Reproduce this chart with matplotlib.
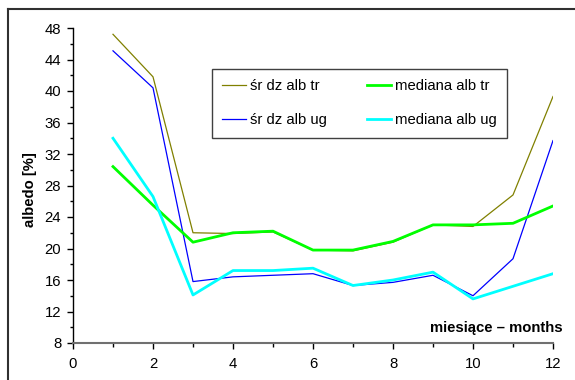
import matplotlib
matplotlib.use("Agg")
import matplotlib.pyplot as plt
from matplotlib.lines import Line2D
from matplotlib.ticker import MultipleLocator

plt.rcParams['font.family'] = ['Liberation Sans', 'DejaVu Sans']

months = [1, 2, 3, 4, 5, 6, 7, 8, 9, 10, 11, 12]
sr_dz_alb_tr = [47.2, 41.8, 22.0, 21.9, 22.1, 19.8, 19.7, 20.8, 23.0, 22.8, 26.8, 39.3]
sr_dz_alb_ug = [45.1, 40.4, 15.8, 16.4, 16.6, 16.8, 15.3, 15.7, 16.6, 14.0, 18.7, 33.7]
mediana_alb_tr = [30.4, 25.5, 20.8, 22.0, 22.2, 19.8, 19.8, 20.9, 23.0, 23.0, 23.2, 25.4]
mediana_alb_ug = [34.0, 26.6, 14.1, 17.2, 17.2, 17.5, 15.3, 16.0, 17.0, 13.6, 15.2, 16.8]

FS = 10.7
W, H = 575, 380
fig = plt.figure(figsize=(W / 100, H / 100), dpi=100)
ax = fig.add_axes([73 / W, 1 - 343 / H, 480 / W, 315 / H])

l1, = ax.plot(months, sr_dz_alb_tr, color='#808000', lw=0.9, label='śr dz alb tr')
l2, = ax.plot(months, sr_dz_alb_ug, color='#0000FF', lw=0.9, label='śr dz alb ug')
l3, = ax.plot(months, mediana_alb_tr, color='#00FF00', lw=2.0, label='mediana alb tr')
l4, = ax.plot(months, mediana_alb_ug, color='#00FFFF', lw=2.0, label='mediana alb ug')

ax.set_xlim(0, 12)
ax.set_ylim(8, 48)
ax.xaxis.set_major_locator(MultipleLocator(2))
ax.xaxis.set_minor_locator(MultipleLocator(1))
ax.yaxis.set_major_locator(MultipleLocator(4))
ax.yaxis.set_minor_locator(MultipleLocator(2))

for s in ('top', 'right'):
    ax.spines[s].set_visible(False)
ax.spines['left'].set_color('black')
ax.spines['bottom'].set_color('#707070')
ax.spines['left'].set_linewidth(1.0)
ax.spines['bottom'].set_linewidth(1.5)

ax.tick_params(axis='y', which='major', length=4, width=1, pad=4.5, labelsize=FS, colors='black')
ax.tick_params(axis='y', which='minor', length=2.5, width=1, colors='black')
ax.tick_params(axis='x', which='major', length=4, width=1, pad=6, labelsize=FS)
ax.tick_params(axis='x', which='minor', length=3, width=1)

fig.text(30 / W, 1 - 190 / H, 'albedo [%]', rotation=90, ha='center', va='center',
         fontsize=FS, fontweight='bold')

ax.text(12.25, 9.95, 'miesiące – months', ha='right', va='center',
        fontsize=FS, fontweight='bold')

leg = ax.legend(handles=[l1, l2, l3, l4], ncol=2, loc='upper left',
                bbox_to_anchor=(212 / W, 1 - 69 / H), bbox_transform=fig.transFigure,
                fontsize=FS, frameon=True, fancybox=False, shadow=False,
                handlelength=1.6, handletextpad=0.27, columnspacing=2.7,
                labelspacing=1.35, borderpad=0.7, borderaxespad=0)
leg.get_frame().set_edgecolor('#404040')
leg.get_frame().set_linewidth(1.0)
leg.get_frame().set_alpha(1)

# Outer chart border (left and top edges)
fig.add_artist(Line2D([8 / W, 8 / W], [0, 1 - 9 / H], color='#303030', lw=1.5,
                      transform=fig.transFigure))
fig.add_artist(Line2D([8 / W, 1], [1 - 9 / H, 1 - 9 / H], color='#303030', lw=1.5,
                      transform=fig.transFigure))

fig.savefig('out.png', dpi=100)
